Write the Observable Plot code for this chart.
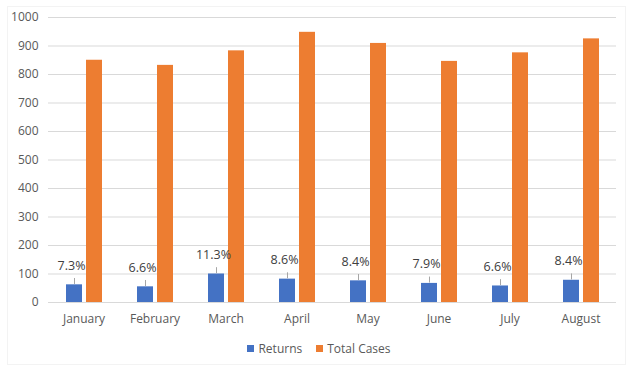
<!DOCTYPE html>
<html>
<head>
<meta charset="utf-8">
<script src="https://cdn.jsdelivr.net/npm/d3@7"></script>
<script src="https://cdn.jsdelivr.net/npm/@observablehq/plot@0.6"></script>
<style>
  html, body { margin: 0; padding: 0; background: #fff; }
  #wrap { position: relative; width: 638px; height: 371px; overflow: hidden; font-family: "Open Sans", "Noto Sans", sans-serif; }
  #frame { position: absolute; left: 7px; top: 6px; width: 617px; height: 357px; border: 1px solid #f3f3f3; }
  #chart { position: absolute; left: 0; top: 0; }
  #legend { position: absolute; left: 0; top: 340px; width: 638px; display: flex; justify-content: center; gap: 14px; font-size: 12px; color: #595959; }
  #legend span.item { display: flex; align-items: center; gap: 4px; }
  #legend span.sw { width: 7px; height: 7px; display: inline-block; }
</style>
</head>
<body>
<div id="wrap">
  <div id="frame"></div>
  <div id="chart"></div>
  <div id="legend"></div>
</div>
<script>
const months = ["January", "February", "March", "April", "May", "June", "July", "August"];
const returns = [62, 55, 100, 82, 76, 67, 58, 78];
const totalCases = [850, 832, 883, 948, 909, 846, 876, 925];
const returnPct = ["7.3%", "6.6%", "11.3%", "8.6%", "8.4%", "7.9%", "6.6%", "8.4%"];
const seriesNames = ["Returns", "Total Cases"];
const seriesColors = ["#4472C4", "#ED7D31"];
const yTicks = [0, 100, 200, 300, 400, 500, 600, 700, 800, 900, 1000];

const rows = [];
months.forEach((m, i) => {
  rows.push({month: m, series: seriesNames[0], value: returns[i], pct: returnPct[i]});
  rows.push({month: m, series: seriesNames[1], value: totalCases[i]});
});
const retRows = rows.filter(d => d.series === seriesNames[0]);

const chart = Plot.plot({
  width: 638,
  height: 335,
  marginLeft: 48,
  marginRight: 22,
  marginTop: 17,
  marginBottom: 33,
  style: {fontFamily: "'Open Sans', 'Noto Sans', sans-serif", fontSize: "12px", color: "#595959", background: "transparent"},
  fx: {domain: months, padding: 0, label: null, tickSize: 0, tickPadding: 12},
  x: {domain: seriesNames, axis: null, paddingInner: 0.2, paddingOuter: 0.875},
  y: {domain: [0, 1000], ticks: yTicks, tickSize: 0, tickPadding: 10, label: null, tickFormat: d => String(d)},
  color: {domain: seriesNames, range: seriesColors},
  marks: [
    Plot.gridY(yTicks, {stroke: "#d9d9d9", strokeOpacity: 1, strokeWidth: 1}),
    Plot.barY(rows, {fx: "month", x: "series", y: "value", fill: "series"}),
    Plot.link(retRows, {fx: "month", x1: "series", x2: "series", y1: d => d.value + 3, y2: d => d.value + 24, stroke: "#a6a6a6", strokeWidth: 1}),
    Plot.text(retRows, {fx: "month", x: "series", y: "value", text: "pct", dy: -19, dx: -3, fill: "#404040", fontSize: 12.5})
  ]
});
document.getElementById("chart").appendChild(chart);

const legend = document.getElementById("legend");
seriesNames.forEach((s, i) => {
  const item = document.createElement("span");
  item.className = "item";
  const sw = document.createElement("span");
  sw.className = "sw";
  sw.style.background = seriesColors[i];
  item.appendChild(sw);
  item.appendChild(document.createTextNode(s));
  legend.appendChild(item);
});
</script>
</body>
</html>
